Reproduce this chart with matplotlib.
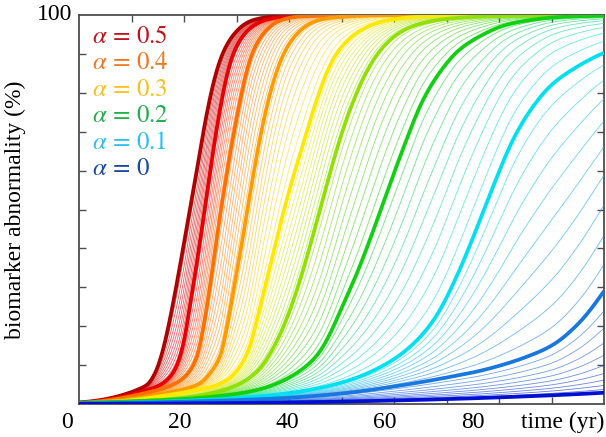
import numpy as np
import matplotlib
matplotlib.use("Agg")
import matplotlib.pyplot as plt
from matplotlib.colors import to_rgb

plt.rcParams['font.family'] = ['Liberation Serif', 'DejaVu Serif']
plt.rcParams['mathtext.fontset'] = 'stix'

# ---- thick curves: (time in yr, abnormality in %) ----
c1_t = [0, 4, 8, 11, 13, 14.5, 15.7, 16.8, 18, 19.3, 20.6, 22.5, 24.4, 27.2, 30, 33, 37, 45, 100]
c1_y = [0.4, 1.0, 2.2, 3.6, 5.0, 8, 12.5, 18.5, 26.5, 36, 46, 60.5, 75, 89.5, 95.8, 98.6, 99.6, 99.95, 99.99]
c2_t = [0, 4, 8, 12, 15, 17, 18.5, 19.8, 21.1, 22.3, 23.5, 25, 26.9, 29.4, 33, 36, 40, 48, 100]
c2_y = [0.3, 0.8, 1.8, 3.2, 4.6, 6.5, 9.5, 15, 25, 35, 46, 60, 76, 90, 97, 98.9, 99.7, 99.96, 99.99]
c3_t = [0, 4, 8, 12, 16, 19, 21, 22.4, 23.6, 24.7, 26.5, 28.5, 30.4, 33, 36, 39, 44, 52, 100]
c3_y = [0.25, 0.7, 1.5, 2.6, 4.0, 5.8, 8.3, 12, 19, 28, 45, 62, 76, 90, 96.5, 98.9, 99.8, 99.97, 99.99]
c4_t = [0, 5, 10, 15, 20, 23, 25, 26.9, 28.2, 29.4, 31.6, 33.6, 35.7, 39, 42, 46, 52, 60, 100]
c4_y = [0.2, 0.6, 1.3, 2.4, 3.8, 5.3, 8, 12.5, 20, 29, 46, 62, 76, 90, 95.8, 98.8, 99.7, 99.95, 99.99]
c5_t = [0, 5, 10, 15, 20, 25, 28, 30, 32, 34.5, 36.5, 38.5, 40.5, 42.5, 45, 48.8, 52, 55, 58, 64, 72, 85, 100]
c5_y = [0.15, 0.45, 1.0, 1.9, 3.0, 4.3, 6.0, 8.5, 13, 25, 36, 47, 57, 66, 77, 89.5, 94.5, 97, 98.4, 99.5, 99.9, 99.98, 99.99]
c6_t = [0, 5, 10, 15, 20, 25, 30, 34, 37, 40, 42.5, 45.3, 48, 50.4, 52.6, 57, 63, 70, 80, 100]
c6_y = [0.22, 0.37, 0.6, 1.0, 1.6, 2.7, 4.8, 8.5, 14.4, 23.5, 33.6, 47, 60.3, 71, 79, 90.2, 96.8, 99, 99.75, 99.98]
c7_t = [0, 10, 20, 30, 35, 40, 45, 50.3, 53.5, 56.7, 59.5, 62.4, 65.3, 69.4, 72, 77, 81, 86, 92, 100]
c7_y = [0.33, 0.7, 1.3, 2.6, 4.0, 6.8, 12, 25.5, 35.5, 47, 57.5, 68, 77.5, 86.5, 90.5, 95, 97.3, 98.7, 99.5, 99.8]
c8_t = [0, 10, 20, 30, 40, 50, 56.7, 62, 67.5, 72, 76, 79.5, 82.7, 86.5, 90, 95, 100]
c8_y = [0.12, 0.35, 0.8, 1.5, 2.8, 5.5, 9, 13.5, 21.5, 33, 46, 58, 68, 76.5, 82, 86.8, 90.3]
c9_t = [0, 10, 20, 30, 40, 50, 60, 70, 76, 80, 85, 90, 95, 100]
c9_y = [0.1, 0.3, 0.6, 1.0, 1.6, 2.7, 4.5, 6.8, 8.4, 9.8, 12, 15, 20.5, 29]
c10_t = [0, 20, 40, 60, 80, 100]
c10_y = [0.05, 0.15, 0.4, 0.9, 1.7, 2.9]

thick_t = [c1_t, c2_t, c3_t, c4_t, c5_t, c6_t, c7_t, c8_t, c9_t, c10_t]
thick_y = [c1_y, c2_y, c3_y, c4_y, c5_y, c6_y, c7_y, c8_y, c9_y, c10_y]
thick_colors = ['#B00000', '#E80000', '#FF7000', '#FF9A00', '#FFE800',
                '#90E000', '#10D010', '#00E0F0', '#1878E0', '#0010D0']
thin_per_gap = 9

legend_labels = [r'$\alpha\,=\,0.5$', r'$\alpha\,=\,0.4$', r'$\alpha\,=\,0.3$',
                 r'$\alpha\,=\,0.2$', r'$\alpha\,=\,0.1$', r'$\alpha\,=\,0$']
legend_colors = ['#C0141E', '#F07820', '#F8C020', '#22B04A', '#30C0F0', '#1848A8']

x_tick_labels = ['0', '20', '40', '60', '80']
x_label = 'time (yr)'
y_label = 'biomarker abnormality (%)'
y_top_label = '100'

# ---- figure ----
W, H = 606, 437
fig = plt.figure(figsize=(W / 100, H / 100), dpi=100)
ax = fig.add_axes([79 / W, (H - 404) / H, 525 / W, 389 / H])
ax.set_xlim(0, 100)
ax.set_ylim(0, 100)

tt = np.linspace(0, 100, 1001)

def logit(p):
    p = np.clip(np.asarray(p, float) / 100.0, 1e-5, 1 - 1e-5)
    return np.log(p / (1 - p))

def expit(z):
    return 100.0 / (1 + np.exp(-z))

def pchip(x, y, xn):
    # monotone cubic (Fritsch-Carlson) for a smooth drawn line through the read points
    x = np.asarray(x, float); y = np.asarray(y, float)
    h = np.diff(x); d = np.diff(y) / h
    m = np.zeros_like(y)
    for i in range(1, len(y) - 1):
        if d[i - 1] * d[i] > 0:
            w1 = 2 * h[i] + h[i - 1]; w2 = h[i] + 2 * h[i - 1]
            m[i] = (w1 + w2) / (w1 / d[i - 1] + w2 / d[i])
    m[0] = d[0]; m[-1] = d[-1]
    idx = np.clip(np.searchsorted(x, xn) - 1, 0, len(h) - 1)
    s = (xn - x[idx]) / h[idx]
    h00 = 2 * s**3 - 3 * s**2 + 1; h10 = s**3 - 2 * s**2 + s
    h01 = -2 * s**3 + 3 * s**2; h11 = s**3 - s**2
    return h00 * y[idx] + h10 * h[idx] * m[idx] + h01 * y[idx + 1] + h11 * h[idx] * m[idx + 1]

L = [pchip(t, logit(y), tt) for t, y in zip(thick_t, thick_y)]

# thin curves between neighbouring thick ones
for i in range(len(L) - 1):
    ca = np.array(to_rgb(thick_colors[i]))
    cb = np.array(to_rgb(thick_colors[i + 1]))
    for k in range(1, thin_per_gap + 1):
        w = k / (thin_per_gap + 1)
        z = (1 - w) * L[i] + w * L[i + 1]
        col = (1 - w) * ca + w * cb
        ax.plot(tt, expit(z), color=col, lw=0.6, alpha=0.6, zorder=2)

for z, c in zip(L, thick_colors):
    ax.plot(tt, expit(z), color=c, lw=2.7, zorder=3, solid_capstyle='butt')

for s in ax.spines.values():
    s.set_color('0.3')
    s.set_linewidth(1.3)
    s.set_zorder(1)

ax.set_xticks(np.arange(10, 100, 10))
ax.set_yticks(np.arange(10, 100, 10))
ax.tick_params(direction='in', length=5, width=1, color='0.3', top=True, right=True,
               labelbottom=False, labelleft=False)

def ftext(x, y, s, **kw):
    fig.text(x / W, 1 - y / H, s, **kw)

fs = 17
for s, x in zip(x_tick_labels, [67, 180, 287, 385, 473]):
    ftext(x, 422, s, ha='center', va='center', fontsize=fs)
ftext(563, 422, x_label, ha='center', va='center', fontsize=fs)
ftext(72, 15, y_top_label, ha='right', va='center', fontsize=fs)
ftext(15, 210, y_label, ha='center', va='center', rotation=90, fontsize=fs)

for i, (s, c) in enumerate(zip(legend_labels, legend_colors)):
    ftext(92, 37 + i * 26.4, s, ha='left', va='center', fontsize=18, color=c)

fig.savefig('out.png', dpi=100)
